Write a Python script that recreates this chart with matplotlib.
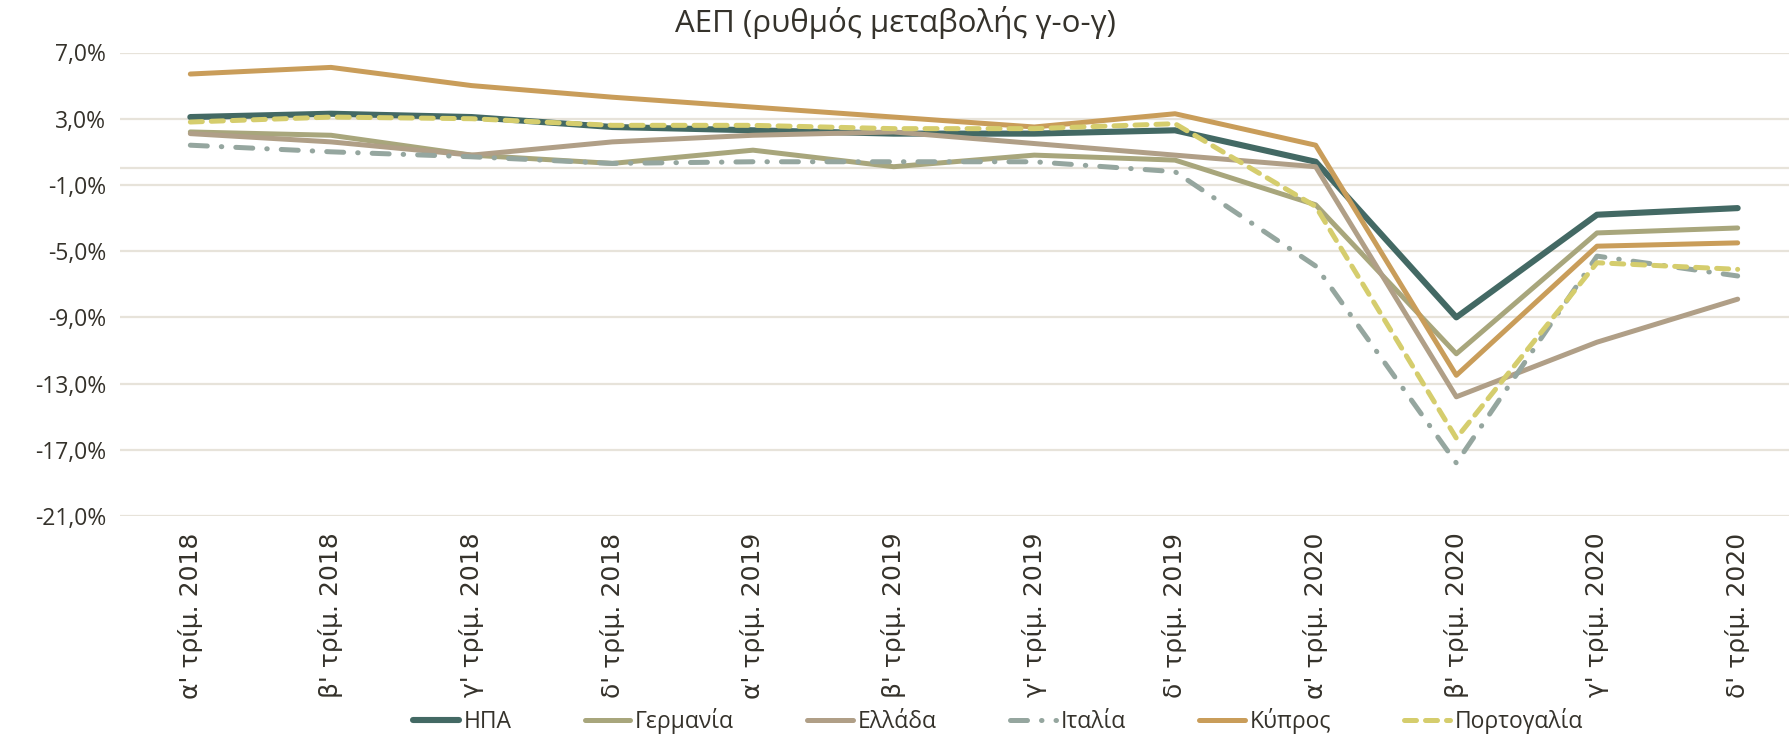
import matplotlib.pyplot as plt
from matplotlib.ticker import FuncFormatter

# Κατηγορίες (τρίμηνα)
trimina = ["α' τρίμ. 2018", "β' τρίμ. 2018", "γ' τρίμ. 2018", "δ' τρίμ. 2018",
           "α' τρίμ. 2019", "β' τρίμ. 2019", "γ' τρίμ. 2019", "δ' τρίμ. 2019",
           "α' τρίμ. 2020", "β' τρίμ. 2020", "γ' τρίμ. 2020", "δ' τρίμ. 2020"]

# Ρυθμός μεταβολής ΑΕΠ (%)
ipa = [3.1, 3.3, 3.1, 2.5, 2.3, 2.1, 2.1, 2.3, 0.4, -9.0, -2.8, -2.4]
germania = [2.2, 2.0, 0.8, 0.3, 1.1, 0.1, 0.8, 0.5, -2.2, -11.2, -3.9, -3.6]
ellada = [2.1, 1.6, 0.8, 1.6, 2.0, 2.2, 1.5, 0.8, 0.1, -13.8, -10.5, -7.9]
italia = [1.4, 1.0, 0.7, 0.3, 0.4, 0.4, 0.4, -0.2, -5.9, -17.8, -5.3, -6.5]
kypros = [5.7, 6.1, 5.0, 4.3, 3.7, 3.1, 2.5, 3.3, 1.4, -12.5, -4.7, -4.5]
portogalia = [2.8, 3.1, 3.0, 2.6, 2.6, 2.4, 2.4, 2.7, -2.3, -16.3, -5.7, -6.1]

xeirografo = '#35322b'
plegma = '#e7e3da'

fig = plt.figure(figsize=(17.9, 7.35), dpi=100)
ax = fig.add_axes([120 / 1790, 1 - 516 / 735, 1688 / 1790, 463.5 / 735])

x = range(len(trimina))
ax.plot(x, ipa, color='#436964', lw=4.4, label='ΗΠΑ', solid_capstyle='round', zorder=3)
ax.plot(x, germania, color='#a8a67c', lw=3.6, label='Γερμανία', solid_capstyle='round', zorder=3)
ax.plot(x, ellada, color='#b09f87', lw=3.6, label='Ελλάδα', solid_capstyle='round', zorder=3)
ax.plot(x, italia, color='#95a69f', lw=3.6, label='Ιταλία', dashes=(3.4, 2.8, 0.1, 2.8),
        dash_capstyle='round', zorder=3)
ax.plot(x, kypros, color='#c99d5a', lw=3.6, label='Κύπρος', solid_capstyle='round', zorder=3)
ax.plot(x, portogalia, color='#d5cd6d', lw=3.6, label='Πορτογαλία', dashes=(2.4, 1.8),
        dash_capstyle='round', zorder=3)

ax.set_xlim(-0.5, len(trimina) - 0.5)
ax.set_ylim(-21, 7)
ax.set_yticks(range(-21, 8, 4))
ax.yaxis.set_major_formatter(FuncFormatter(lambda v, p: f'{v:.1f}%'.replace('.', ',')))
ax.grid(axis='y', color=plegma, lw=1.6, zorder=0)
ax.axhline(0, color=plegma, lw=1.6, zorder=1)
for s in ax.spines.values():
    s.set_visible(False)
ax.tick_params(length=0)
ax.tick_params(axis='y', pad=10, labelsize=16.5, labelcolor=xeirografo)
for t in ax.get_yticklabels():
    t.set_family('Open Sans')

ax.set_xticks(list(x))
ax.set_xticklabels(trimina, rotation=90, fontsize=18, color=xeirografo, family='DejaVu Sans')
ax.tick_params(axis='x', pad=12)

fig.text(0.5, 0.969, 'ΑΕΠ (ρυθμός μεταβολής γ-ο-γ)', ha='center', va='center',
         fontsize=22.5, color=xeirografo, family='Open Sans')

fig.legend(loc='center', bbox_to_anchor=(0.5575, 0.019), ncol=6, frameon=False,
           handlelength=2.0, handletextpad=0.2, columnspacing=3.2,
           prop={'family': 'Open Sans', 'size': 16.5}, labelcolor=xeirografo)

fig.savefig('out.png', dpi=100)
